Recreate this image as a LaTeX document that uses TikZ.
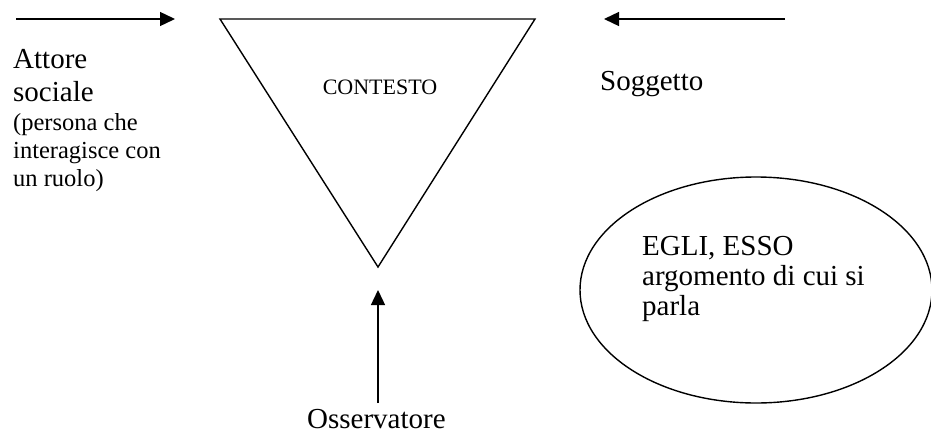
\documentclass[tikz,border=0pt]{standalone}
\usepackage{fontspec}
\setmainfont{Liberation Serif}
\usetikzlibrary{arrows.meta,shapes.geometric}
\begin{document}
\begin{tikzpicture}[x=1pt,y=-1pt,
  line/.style={line width=1.4pt},
  arr/.style={line, -{Triangle[length=15pt,width=14pt]}},
  big/.style={font=\fontsize{29}{33}\selectfont, inner sep=0pt, anchor=base west},
  small/.style={font=\fontsize{24.5}{28}\selectfont, inner sep=0pt, anchor=base west},
  ctxfont/.style={font=\fontsize{22}{26}\selectfont, inner sep=0pt, anchor=base}]
\useasboundingbox (0,0) rectangle (931,434);
\fill[white] (0,0) rectangle (931,434);
\clip (0,0) rectangle (931,434);
% triangle
\coordinate (tl) at (220,19);
\coordinate (tr) at (535,19);
\coordinate (ap) at (378,267);
\draw[line, line join=miter] (tl) -- (tr) -- (ap) -- cycle;
\node[ctxfont] (ctx) at (380,94) {CONTESTO};
% arrows
\coordinate (la1) at (16,19);
\coordinate (la2) at (175,19);
\draw[arr] (la1) -- (la2);
\coordinate (ra1) at (785,19);
\coordinate (ra2) at (604,19);
\draw[arr] (ra1) -- (ra2);
\coordinate (ua1) at (378,403);
\coordinate (ua2) at (378,290);
\draw[arr] (ua1) -- (ua2);
% left text
\node[big] (att1) at (13,68) {Attore};
\node[big] (att2) at (13,101) {sociale};
\node[small] (att3) at (13,130) {(persona che};
\node[small] (att4) at (13,158) {interagisce con};
\node[small] (att5) at (13,186) {un ruolo)};
% right text
\node[big] (sog) at (600,90) {Soggetto};
\node[big] (oss) at (307,428) {Osservatore};
% ellipse
\node[draw, line, ellipse, minimum width=352pt, minimum height=226pt, inner sep=0pt] (ell) at (756,290) {};
\node[big] (eg1) at (642,255) {EGLI, ESSO};
\node[big] (eg2) at (642,285) {argomento di cui si};
\node[big] (eg3) at (642,315) {parla};
\end{tikzpicture}
\end{document}
